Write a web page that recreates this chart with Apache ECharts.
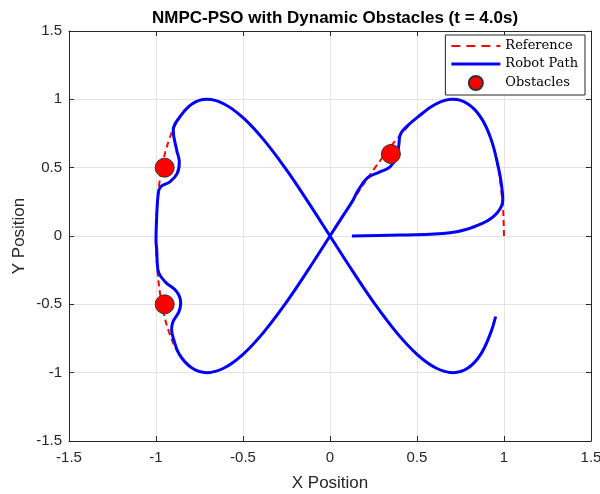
<!DOCTYPE html>
<html>
<head>
<meta charset="utf-8">
<script src="https://cdn.jsdelivr.net/npm/echarts@6/dist/echarts.min.js"></script>
<style>
  html, body { margin: 0; padding: 0; background: #fff; }
  #chart { width: 600px; height: 494px; }
</style>
</head>
<body>
<div id="chart"></div>
<script>
// reference trajectory (red dashed)
const refX = [1.000, 0.995, 0.991, 0.966, 0.924, 0.866, 0.793, 0.707, 0.609, 0.500, 0.383, 0.259, 0.131, 0,
  -0.131, -0.259, -0.383, -0.500, -0.609, -0.707, -0.793, -0.866, -0.924, -0.966, -0.991, -1,
  -0.991, -0.966, -0.924, -0.866, -0.793, -0.707, -0.609, -0.500, -0.383, -0.259, -0.131, 0,
  0.131, 0.259, 0.383, 0.500, 0.609, 0.707, 0.793, 0.866, 0.924, 0.950];
const refY = [0.000, 0.200, 0.259, 0.500, 0.707, 0.866, 0.966, 1.000, 0.966, 0.866, 0.707, 0.500, 0.259, 0,
  -0.259, -0.500, -0.707, -0.866, -0.966, -1.000, -0.966, -0.866, -0.707, -0.500, -0.259, 0,
  0.259, 0.500, 0.707, 0.866, 0.966, 1.000, 0.966, 0.866, 0.707, 0.500, 0.259, 0,
  -0.259, -0.500, -0.707, -0.866, -0.966, -1.000, -0.966, -0.866, -0.707, -0.590];

// robot path (blue)
const robotX = [0.126, 0.402, 0.690, 0.879, 0.960, 0.993, 0.985, 0.968, 0.926, 0.868,
  0.793, 0.707, 0.609, 0.500, 0.440, 0.405, 0.395, 0.383, 0.345, 0.287,
  0.215, 0.160, 0.131, 0.065, 0, -0.131, -0.259, -0.383, -0.500, -0.609,
  -0.707, -0.793, -0.866, -0.900, -0.910, -0.902, -0.868, -0.858, -0.881, -0.948,
  -0.989, -0.996, -1.000, -0.996, -0.987, -0.973, -0.920, -0.878, -0.866, -0.881,
  -0.901, -0.866, -0.793, -0.707, -0.609, -0.500, -0.383, -0.259, -0.131, 0,
  0.131, 0.259, 0.383, 0.500, 0.609, 0.707, 0.793, 0.866, 0.924, 0.952];
const robotY = [0.000, 0.007, 0.024, 0.095, 0.168, 0.263, 0.380, 0.500, 0.707, 0.866,
  0.966, 1.000, 0.966, 0.866, 0.800, 0.745, 0.660, 0.579, 0.506, 0.469,
  0.425, 0.330, 0.259, 0.129, 0, -0.259, -0.500, -0.707, -0.866, -0.966,
  -1.000, -0.966, -0.866, -0.750, -0.686, -0.626, -0.553, -0.491, -0.407, -0.334,
  -0.248, -0.102, -0.029, 0.141, 0.312, 0.360, 0.396, 0.458, 0.542, 0.628,
  0.774, 0.866, 0.966, 1.000, 0.966, 0.866, 0.707, 0.500, 0.259, 0,
  -0.259, -0.500, -0.707, -0.866, -0.966, -1.000, -0.966, -0.866, -0.707, -0.589];

// obstacles
const obsX = [-0.95, -0.95, 0.35];
const obsY = [0.5, -0.5, 0.6];

const axisMin = -1.5, axisMax = 1.5, step = 0.5;

function pairs(xs, ys) {
  return xs.map((x, i) => [x, ys[i]]);
}

const axisColor = '#262626';
const font = 'Liberation Sans, Arial, sans-serif';
// legend icons: 49 x 14 boxes, corner specks keep the box size
const box = 'M0,0L0.01,0L0,0.01Z M49,14L48.99,14L49,13.99Z ';
const dashIcon = 'path://' + box + 'M0,6h9v2h-9Z M15,6h9v2h-9Z M30,6h9v2h-9Z M45,6h4v2h-4Z';
const solidIcon = 'path://' + box + 'M0,5.5h49v3h-49Z';

function mainAxis(pos, name, nameGap, margin) {
  return {
    type: 'value', position: pos, min: axisMin, max: axisMax, interval: step,
    name: name, nameLocation: 'middle', nameGap: nameGap, nameMoveOverlap: false,
    nameTextStyle: { fontFamily: font, fontSize: 17, color: axisColor },
    axisLine: { show: true, onZero: false, lineStyle: { color: axisColor, width: 1 } },
    axisTick: { show: true, inside: true, length: 5, lineStyle: { color: axisColor } },
    axisLabel: { fontFamily: font, fontSize: 15, color: axisColor, margin: margin },
    splitLine: { show: true, lineStyle: { color: '#e3e3e3', width: 1 } }
  };
}
function boxAxis(pos) {
  return {
    type: 'value', position: pos, min: axisMin, max: axisMax, interval: step,
    axisLine: { show: true, onZero: false, lineStyle: { color: axisColor, width: 1 } },
    axisTick: { show: true, inside: true, length: 5, lineStyle: { color: axisColor } },
    axisLabel: { show: false },
    splitLine: { show: false }
  };
}

const chart = echarts.init(document.getElementById('chart'));
chart.setOption({
  animation: false,
  backgroundColor: '#fff',
  title: {
    text: 'NMPC-PSO with Dynamic Obstacles (t = 4.0s)',
    left: 330, textAlign: 'center', top: 5,
    textStyle: { fontFamily: font, fontSize: 17, fontWeight: 'bold', color: '#000' }
  },
  grid: { left: 69, right: 9, top: 31, bottom: 53, outerBoundsMode: 'none', containLabel: false },
  xAxis: [mainAxis('bottom', 'X Position', 34, 9), boxAxis('top')],
  yAxis: [mainAxis('left', 'Y Position', 41, 7), boxAxis('right')],
  legend: {
    orient: 'vertical', right: 15, top: 35,
    backgroundColor: '#fff', borderColor: axisColor, borderWidth: 1, borderRadius: 0,
    padding: [4, 7, 4, 6], itemGap: 4, itemWidth: 49, itemHeight: 14,
    textStyle: { fontFamily: 'DejaVu Serif, Liberation Serif, serif', fontSize: 13, color: '#000' },
    data: [
      { name: 'Reference', icon: dashIcon, itemStyle: { borderWidth: 0 } },
      { name: 'Robot Path', icon: solidIcon, itemStyle: { borderWidth: 0 } },
      { name: 'Obstacles', icon: 'circle' }
    ]
  },
  series: [
    {
      name: 'Reference', type: 'line', data: pairs(refX, refY),
      smooth: 0.4, symbol: 'none', z: 2,
      lineStyle: { color: '#ff0000', width: 2, type: [6, 4] },
      itemStyle: { color: '#ff0000' }
    },
    {
      name: 'Robot Path', type: 'line', data: pairs(robotX, robotY),
      smooth: 0.4, symbol: 'none', z: 3,
      lineStyle: { color: '#0000ff', width: 3 },
      itemStyle: { color: '#0000ff' }
    },
    {
      name: 'Obstacles', type: 'scatter', data: pairs(obsX, obsY),
      symbol: 'circle', symbolSize: 19, z: 4,
      itemStyle: { color: '#ff0000', borderColor: '#333', borderWidth: 1, opacity: 1 }
    }
  ]
});
</script>
</body>
</html>
